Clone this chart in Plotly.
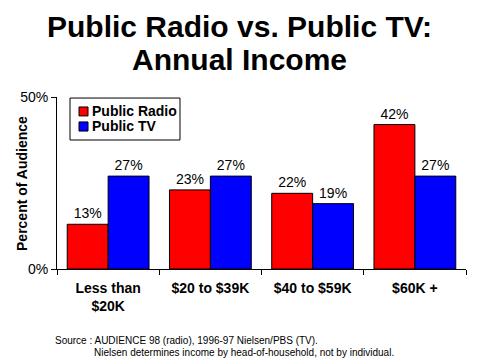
import plotly.graph_objects as go

categories = ["Less than<br>$20K", "$20 to $39K", "$40 to $59K", "$60K +"]
radio = [13, 23, 22, 42]
tv = [27, 27, 19, 27]
radio_labels = ["13%", "23%", "22%", "42%"]
tv_labels = ["27%", "27%", "19%", "27%"]
series_names = ["Public Radio", "Public TV"]
series_colors = ["#ff0000", "#0000ff"]

narrow = "Liberation Sans Narrow, Arial Narrow, sans-serif"
sans = "Liberation Sans, Arial, sans-serif"

fig = go.Figure()
for name, vals, labels, col in zip(series_names, [radio, tv], [radio_labels, tv_labels], series_colors):
    fig.add_trace(go.Bar(name=name, x=categories, y=vals, text=labels,
                         textposition="outside", cliponaxis=False, showlegend=False,
                         textfont=dict(family=narrow, size=14, color="black"),
                         marker=dict(color=col, line=dict(color="black", width=1))))

fig.update_layout(
    width=480, height=360,
    margin=dict(l=57, r=14, t=97, b=91, autoexpand=False),
    paper_bgcolor="white", plot_bgcolor="white",
    barmode="group", bargap=0.2, bargroupgap=0,
    showlegend=False,
)
fig.update_xaxes(showline=True, linecolor="black", linewidth=1, automargin=False,
                 ticks="outside", tickson="boundaries", ticklen=5, tickcolor="black",
                 ticklabelstandoff=6,
                 tickfont=dict(family=sans, size=14, color="black", weight="bold"),
                 showgrid=False)
fig.update_yaxes(range=[0, 50], tickvals=[0, 50], ticktext=["0%", "50%"], automargin=False,
                 showline=True, linecolor="black", linewidth=1,
                 ticks="outside", ticklen=5, tickcolor="black",
                 tickfont=dict(family=narrow, size=14, color="black"),
                 showgrid=False, zeroline=False)

# y-axis title
fig.add_annotation(text="Percent of Audience", xref="paper", yref="paper",
                   x=-0.0856, y=0.5, xanchor="center", yanchor="middle", textangle=-90,
                   showarrow=False, font=dict(family=sans, size=14, color="black", weight="bold"))

# legend (box, swatches, labels)
fig.add_shape(type="rect", xref="paper", yref="paper", x0=0.0318, x1=0.3007, y0=0.75, y1=0.994,
              line=dict(color="black", width=1), fillcolor="white", layer="above")
sw_y = [(0.890, 0.942), (0.802, 0.855)]
tx_y = [0.916, 0.8285]
for name, col, (y0, y1), ty in zip(series_names, series_colors, sw_y, tx_y):
    fig.add_shape(type="rect", xref="paper", yref="paper", x0=0.0538, x1=0.0758, y0=y0, y1=y1,
                  line=dict(color="black", width=1), fillcolor=col, layer="above")
    fig.add_annotation(text=name, xref="paper", yref="paper", x=0.0811, y=ty,
                       xanchor="left", yanchor="middle", showarrow=False,
                       font=dict(family=sans, size=14, color="black", weight="bold"))

# title
fig.add_annotation(text="Public Radio vs. Public TV:", xref="paper", yref="paper",
                   x=0.446, y=1.41, xanchor="center", yanchor="middle", showarrow=False,
                   font=dict(family=sans, size=30, color="black", weight="bold"))
fig.add_annotation(text="Annual Income", xref="paper", yref="paper",
                   x=0.446, y=1.22, xanchor="center", yanchor="middle", showarrow=False,
                   font=dict(family=sans, size=30, color="black", weight="bold"))

# source notes
fig.add_annotation(text="Source : AUDIENCE 98 (radio), 1996-97 Nielsen/PBS (TV).",
                   xref="paper", yref="paper", x=-0.01, y=-0.413, xanchor="left", yanchor="middle",
                   showarrow=False, font=dict(family=sans, size=10, color="black"))
fig.add_annotation(text="Nielsen determines income by head-of-household, not by individual.",
                   xref="paper", yref="paper", x=0.086, y=-0.488, xanchor="left", yanchor="middle",
                   showarrow=False, font=dict(family=sans, size=10, color="black"))

fig.write_html("out.html", config={"displayModeBar": False},
               post_script="document.body.style.margin='0';")
